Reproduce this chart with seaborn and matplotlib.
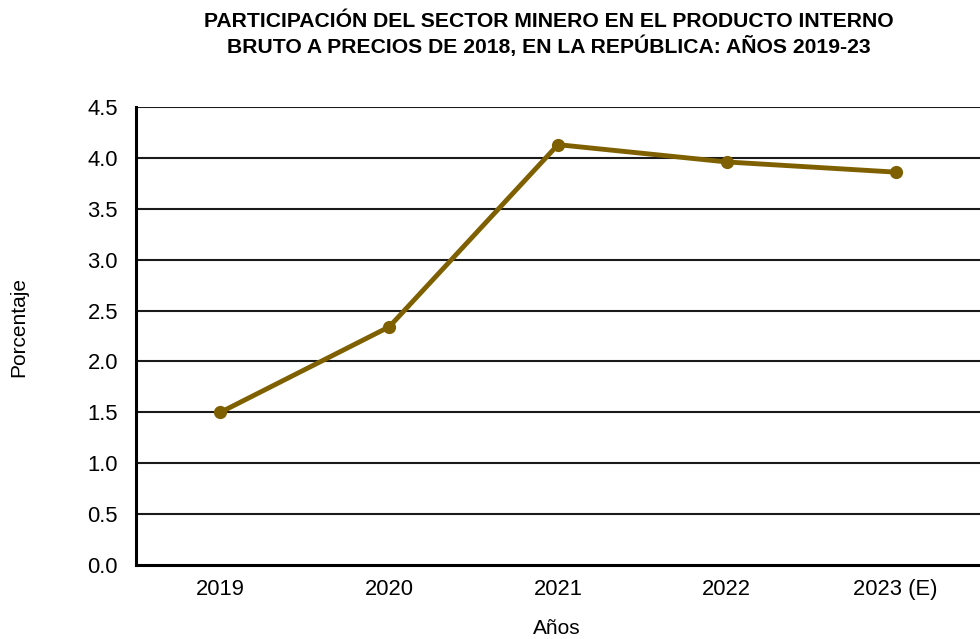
import matplotlib
matplotlib.use("Agg")
import matplotlib.pyplot as plt
import seaborn as sns
import pandas as pd

years = ["2019", "2020", "2021", "2022", "2023 (E)"]
share = [1.50, 2.34, 4.13, 3.96, 3.86]
y_ticks = [0.0, 0.5, 1.0, 1.5, 2.0, 2.5, 3.0, 3.5, 4.0, 4.5]

sns.set_theme(style="white")
plt.rcParams["font.family"] = ["Liberation Sans", "DejaVu Sans"]
plt.rcParams["text.color"] = "black"

df = pd.DataFrame({"anio": years, "pct": share})
df["pos"] = range(len(years))

W, H = 980, 639
fig = plt.figure(figsize=(W / 100, H / 100), dpi=100)
ax = fig.add_axes([136 / W, 1 - 565 / H, (W - 136) / W, (565 - 107) / H])

color = "#7F6000"
sns.lineplot(data=df, x="pos", y="pct", ax=ax, color=color, linewidth=3.5,
             marker="o", markersize=9.5, markeredgewidth=0, sort=False)

ax.set_xlim(-0.5, len(years) - 0.5)
ax.set_ylim(0, 4.5)
ax.set_xticks(range(len(years)))
ax.set_xticklabels(years)
ax.set_yticks(y_ticks)
ax.set_yticklabels([f"{v:.1f}" for v in y_ticks])
ax.tick_params(axis="both", labelsize=15.8, colors="black", length=0)
ax.tick_params(axis="x", pad=10)
ax.tick_params(axis="y", pad=13)

for v in y_ticks[1:]:
    ax.axhline(v, color="#1a1a1a", linewidth=1.5, zorder=0)

for s in ["top", "right"]:
    ax.spines[s].set_visible(False)
for s in ["left", "bottom"]:
    ax.spines[s].set_color("black")
    ax.spines[s].set_linewidth(2.2)

ax.set_xlabel("")
ax.set_ylabel("")

fig.text(557 / W, 1 - 628 / H, "Años", fontsize=15, ha="center", va="center",
         color="black")
fig.text(19 / W, 1 - 327 / H, "Porcentaje", fontsize=15, rotation=90,
         ha="center", va="center", color="black")
fig.text(549 / W, 1 - 34.5 / H,
         "PARTICIPACIÓN DEL SECTOR MINERO EN EL PRODUCTO INTERNO\n"
         "BRUTO A PRECIOS DE 2018, EN LA REPÚBLICA: AÑOS 2019-23",
         fontsize=15.2, fontweight="bold", ha="center", va="center",
         linespacing=1.28, color="black")

fig.savefig("out.png", dpi=100)
